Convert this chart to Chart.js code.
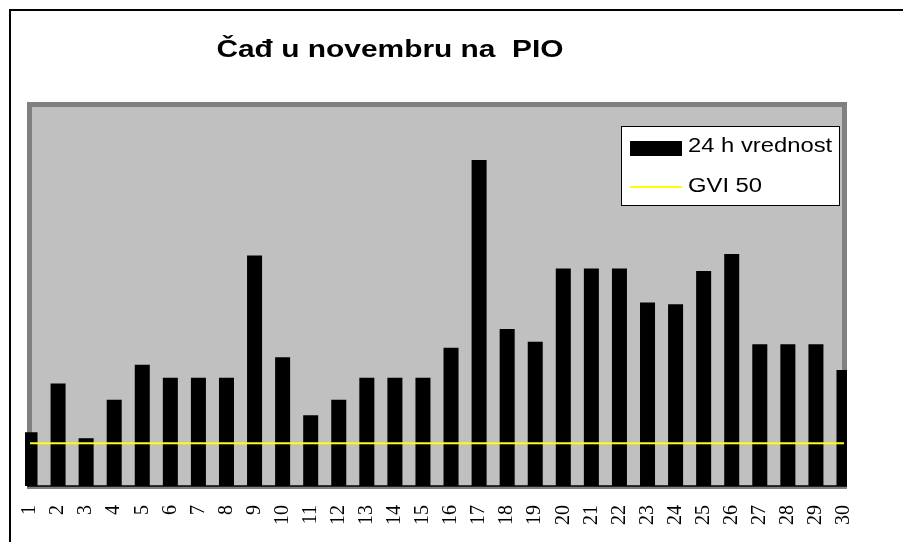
<!DOCTYPE html>
<html>
<head>
<meta charset="utf-8">
<script src="https://cdn.jsdelivr.net/npm/chart.js@4"></script>
<style>
  html, body { margin: 0; padding: 0; background: #fff; }
  canvas { display: block; }
</style>
</head>
<body>
<canvas id="cadChart" width="903" height="542"></canvas>
<script>
const TITLE = 'Čađ u novembru na  PIO';
const days = ['1','2','3','4','5','6','7','8','9','10','11','12','13','14','15',
              '16','17','18','19','20','21','22','23','24','25','26','27','28','29','30'];
// 24 h values
const dailyValues = [63, 120, 56, 101, 142, 127, 127, 127, 270, 151, 83, 101, 127, 127, 127,
                     162, 382, 184, 169, 255, 255, 255, 215, 213, 252, 272, 166, 166, 166, 136];
// limit value (GVI 50)
const gviValues = [50, 50, 50, 50, 50, 50, 50, 50, 50, 50, 50, 50, 50, 50, 50,
                   50, 50, 50, 50, 50, 50, 50, 50, 50, 50, 50, 50, 50, 50, 50];
const yMin = 0;
const yMax = 450;

// frame, grey plot area and axis line
const backgroundPlugin = {
    id: 'background',
    beforeDraw(chart) {
        const ctx = chart.ctx;
        const ca = chart.chartArea;
        ctx.save();
        ctx.fillStyle = '#fff';
        ctx.fillRect(0, 0, chart.width, chart.height);

        ctx.strokeStyle = '#000';
        ctx.lineWidth = 2;
        ctx.beginPath();
        ctx.moveTo(10, chart.height);
        ctx.lineTo(10, 10);
        ctx.lineTo(chart.width, 10);
        ctx.stroke();

        ctx.fillStyle = '#808080';
        ctx.fillRect(ca.left - 3, ca.top, ca.right - ca.left + 6, ca.bottom - ca.top + 3);
        ctx.fillStyle = '#c0c0c0';
        ctx.fillRect(ca.left + 2, ca.top + 5, ca.right - ca.left - 4, ca.bottom - ca.top - 5);

        ctx.strokeStyle = '#000';
        ctx.lineWidth = 1.5;
        ctx.beginPath();
        ctx.moveTo(ca.left - 3, ca.bottom);
        ctx.lineTo(ca.right + 3, ca.bottom);
        ctx.stroke();
        ctx.restore();
    }
};

// title and boxed legend, drawn a bit wider like the original
const overlayPlugin = {
    id: 'overlay',
    afterDraw(chart) {
        const ctx = chart.ctx;
        ctx.save();
        ctx.fillStyle = '#000';
        ctx.textBaseline = 'alphabetic';

        ctx.font = 'bold 23px "Liberation Sans", Arial, sans-serif';
        ctx.textAlign = 'center';
        ctx.translate(390, 57);
        ctx.scale(1.3, 1);
        ctx.fillText(TITLE, 0, 0);
        ctx.setTransform(1, 0, 0, 1, 0, 0);

        const bars = chart.data.datasets[0];
        const limit = chart.data.datasets[1];
        ctx.fillStyle = '#fff';
        ctx.fillRect(621, 126, 218, 79);
        ctx.strokeStyle = '#000';
        ctx.lineWidth = 1;
        ctx.strokeRect(621.5, 126.5, 218, 79);

        ctx.fillStyle = bars.backgroundColor;
        ctx.fillRect(630, 141, 52, 15);
        ctx.strokeStyle = limit.borderColor;
        ctx.lineWidth = 2;
        ctx.beginPath();
        ctx.moveTo(630, 187);
        ctx.lineTo(682, 187);
        ctx.stroke();

        ctx.fillStyle = '#000';
        ctx.font = '20px "Liberation Sans", Arial, sans-serif';
        ctx.textAlign = 'left';
        [[bars.label, 152], [limit.label, 192]].forEach(([txt, y]) => {
            ctx.save();
            ctx.translate(688, y);
            ctx.scale(1.19, 1);
            ctx.fillText(txt, 0, 0);
            ctx.restore();
        });
        ctx.restore();
    }
};

new Chart(document.getElementById('cadChart').getContext('2d'), {
    type: 'bar',
    data: {
        labels: days,
        datasets: [{
            type: 'bar',
            label: '24 h vrednost',
            data: dailyValues,
            backgroundColor: '#000000',
            borderWidth: 0,
            barPercentage: 1,
            categoryPercentage: 0.535,
            clip: {left: 5, top: 0, right: 3, bottom: 0},
            order: 1
        }, {
            type: 'line',
            label: 'GVI 50',
            data: gviValues,
            borderColor: '#ffff00',
            borderWidth: 2,
            pointRadius: 0,
            fill: false,
            order: 0
        }]
    },
    options: {
        responsive: false,
        animation: false,
        layout: {padding: {left: 30, right: 59, top: 102, bottom: 0}},
        plugins: {
            legend: {display: false},
            title: {display: false},
            tooltip: {enabled: false}
        },
        scales: {
            x: {
                offset: false,
                grid: {display: false},
                border: {display: false},
                ticks: {
                    autoSkip: false,
                    minRotation: 90,
                    maxRotation: 90,
                    padding: 11,
                    color: '#000',
                    font: {family: '"Liberation Serif", "Times New Roman", serif', size: 20}
                },
                afterFit: scale => { scale.height = 56; }
            },
            y: {display: false, min: yMin, max: yMax}
        }
    },
    plugins: [backgroundPlugin, overlayPlugin]
});
</script>
</body>
</html>
